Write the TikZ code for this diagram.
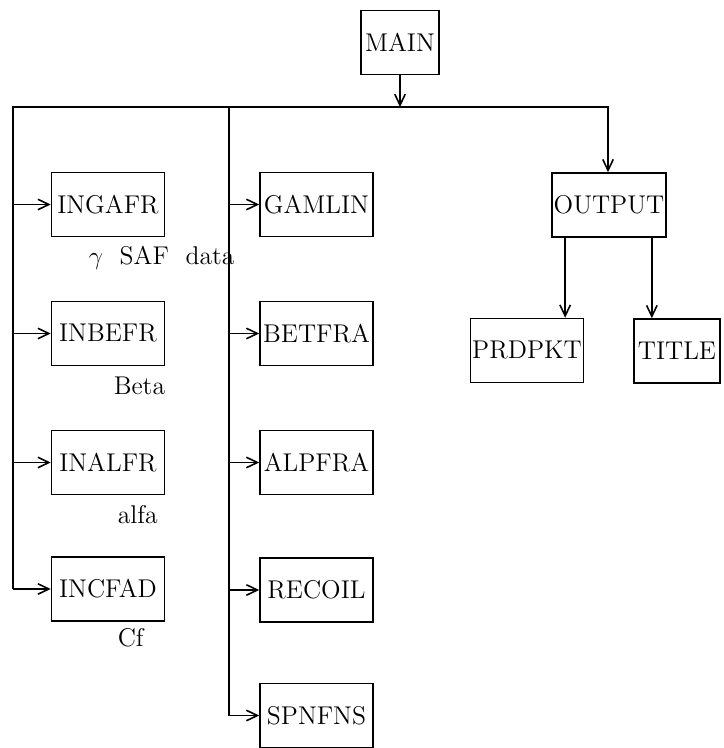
\documentclass[tikz,border=0pt]{standalone}
\usepackage{tikz}
\usetikzlibrary{arrows.meta}

\begin{document}
\begin{tikzpicture}[>={Straight Barb[length=2.2mm,width=2.1mm]},line width=0.9pt,
  font=\fontsize{14.6}{17}\selectfont,
  box/.style={draw,minimum width=2.26cm,minimum height=1.28cm,inner sep=1pt},
  note/.style={inner sep=0pt}]
\path[use as bounding box] (0,0) rectangle (14.46,-14.96);
\fill[white] (0,0) rectangle (14.46,-14.96);

% hauptprogramm und sammelleitung
\node[box,minimum width=1.56cm] (main) at (8.00,-0.85) {MAIN};
\coordinate (ltop) at (0.26,-2.14);
\coordinate (mtop) at (4.58,-2.14);
\coordinate (rtop) at (12.16,-2.14);
\draw[->] (main.south) -- (main.south |- ltop);

% linke spalte: eingabe
\foreach \nm/\txt/\y in {ingafr/INGAFR/-4.09,inbefr/INBEFR/-6.67,
                         inalfr/INALFR/-9.25,incfad/INCFAD/-11.78} {
  \node[box] (\nm) at (2.16,\y) {\txt};
  \draw[->] (ltop |- \nm) -- (\nm.west);
}

% mittlere spalte
\foreach \nm/\txt/\y in {gamlin/GAMLIN/-4.09,betfra/BETFRA/-6.67,
                         alpfra/ALPFRA/-9.25,recoil/RECOIL/-11.80,spnfns/SPNFNS/-14.31} {
  \node[box] (\nm) at (6.33,\y) {\txt};
  \draw[->] (mtop |- \nm) -- (\nm.west);
}
\draw (mtop) -- (mtop |- spnfns);

% ausgabe
\node[box] (output) at (12.18,-4.10) {OUTPUT};
\node[box] (prdpkt) at (10.54,-7.01) {PRDPKT};
\node[box,minimum width=1.72cm] (title) at (13.54,-7.02) {TITLE};
\draw[->] (ltop |- incfad) -- (ltop) -- (rtop) -- (rtop |- output.north);
\draw[->] ([xshift=0.28cm]output.south west) -- ([xshift=0.28cm]output.south west |- prdpkt.north);
\draw[->] ([xshift=-0.30cm]output.south east) -- ([xshift=-0.30cm]output.south east |- title.north);

% beschriftungen
\node[note,anchor=base west] (lgam) at (1.76,-5.30) {$\gamma$\ \ SAF\ \ data};
\node[note,anchor=base west] (lbet) at (2.26,-7.88) {Beta};
\node[note,anchor=base west] (lalf) at (2.34,-10.46) {alfa};
\node[note,anchor=base west] (lcf) at (2.34,-12.92) {Cf};
\end{tikzpicture}
\end{document}
